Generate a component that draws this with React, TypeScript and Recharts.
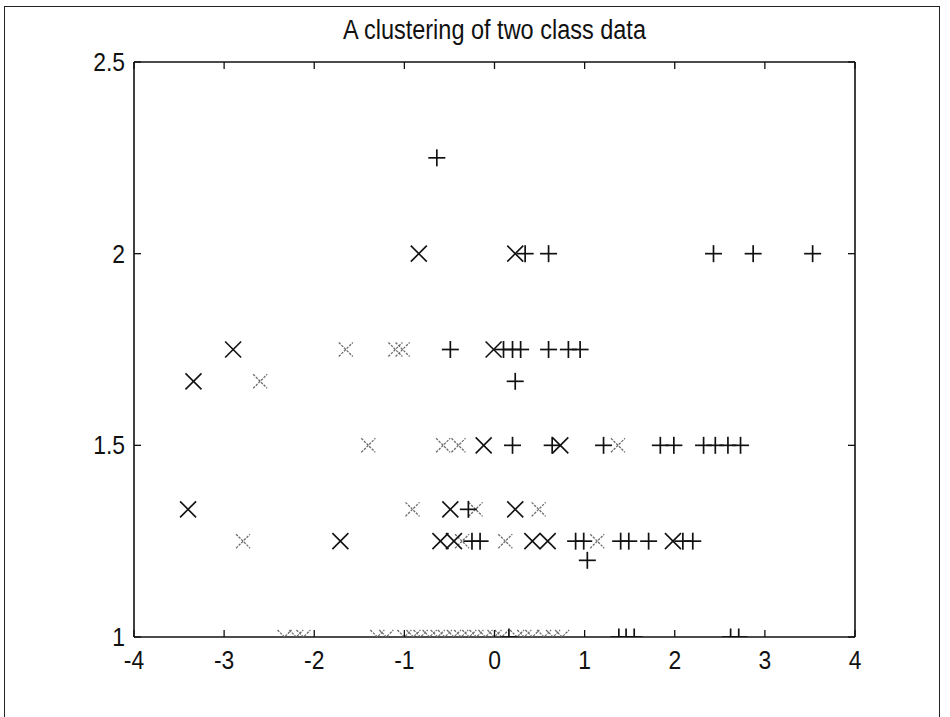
import { ScatterChart, Scatter, XAxis, YAxis } from 'recharts';

// class 1, dark "x" markers
const darkXx = [-0.84, 0.23, -2.9, -0.01, -3.34, -0.12, 0.73, -3.4, -0.49, 0.23, -1.71, -0.6, -0.45, 0.42, 0.59, 1.98];
const darkXy = [2, 2, 1.75, 1.75, 1.667, 1.5, 1.5, 1.333, 1.333, 1.333, 1.25, 1.25, 1.25, 1.25, 1.25, 1.25];

// class 1, faint "x" markers
const lightXx = [
    -1.65, -1.1, -1.02, -2.6, -1.4, -0.57, -0.4, 1.37, -0.91, -0.21, 0.49, -2.79, -0.36, 0.12, 1.14,
    -2.33, -2.2, -2.12, -1.3, -1.2, -1.0, -0.9, -0.82, -0.72, -0.63, -0.55, -0.45, -0.37, -0.28, -0.2,
    -0.1, 0.0, 0.08, 0.25, 0.33, 0.42, 0.55, 0.65, 0.75,
];
const lightXy = [
    1.75, 1.75, 1.75, 1.667, 1.5, 1.5, 1.5, 1.5, 1.333, 1.333, 1.333, 1.25, 1.25, 1.25, 1.25,
    1, 1, 1, 1, 1, 1, 1, 1, 1, 1, 1, 1, 1, 1, 1,
    1, 1, 1, 1, 1, 1, 1, 1, 1,
];

// class 2, "+" markers
const plusX = [
    -0.64, 0.34, 0.6, 2.43, 2.87, 3.53, -0.49, 0.1, 0.2, 0.29, 0.6, 0.82, 0.95, 0.23,
    0.2, 0.64, 1.21, 1.84, 1.99, 2.32, 2.45, 2.59, 2.73, -0.29, -0.25, -0.16, 0.9, 0.99,
    1.4, 1.49, 1.71, 2.09, 2.2, 1.03, 0.16, 1.38, 1.46, 1.55, 2.62, 2.71,
];
const plusY = [
    2.25, 2, 2, 2, 2, 2, 1.75, 1.75, 1.75, 1.75, 1.75, 1.75, 1.75, 1.667,
    1.5, 1.5, 1.5, 1.5, 1.5, 1.5, 1.5, 1.5, 1.5, 1.333, 1.25, 1.25, 1.25, 1.25,
    1.25, 1.25, 1.25, 1.25, 1.25, 1.2, 1, 1, 1, 1, 1, 1,
];

const xTicks = [-4, -3, -2, -1, 0, 1, 2, 3, 4];
const yTicks = [1, 1.5, 2, 2.5];
const title = 'A clustering of two class data';

const zip = (xs: number[], ys: number[]) => xs.map((x, i) => ({ x, y: ys[i] }));

const FONT = '"Liberation Sans", Arial, sans-serif';
const TICK = 7;
const SQUEEZE = 0.88;

const makeX = (color: string, half: number, width: number, dash?: string) => (props: any) => {
    const { cx, cy } = props;
    return (
        <g stroke={color} strokeWidth={width} strokeDasharray={dash} fill="none">
            <line x1={cx - half} y1={cy - half} x2={cx + half} y2={cy + half} />
            <line x1={cx - half} y1={cy + half} x2={cx + half} y2={cy - half} />
        </g>
    );
};

const makePlus = (color: string, half: number, width: number) => (props: any) => {
    const { cx, cy } = props;
    return (
        <g stroke={color} strokeWidth={width} fill="none">
            <line x1={cx - half} y1={cy} x2={cx + half} y2={cy} />
            <line x1={cx} y1={cy - half} x2={cx} y2={cy + half} />
        </g>
    );
};

// narrow-looking label, squeezed horizontally around its anchor
const Label = ({ x, y, anchor, children }: any) => (
    <g transform={`translate(${x},${y}) scale(${SQUEEZE},1)`}>
        <text x={0} y={0} textAnchor={anchor} fontSize={26} fontFamily={FONT} fill="#111">
            {children}
        </text>
    </g>
);

const BottomTick = ({ x, y, payload }: any) => (
    <g>
        <line x1={x} x2={x} y1={y} y2={y - TICK} stroke="#111" strokeWidth={1.3} />
        <Label x={x} y={y + 32} anchor="middle">{payload.value}</Label>
    </g>
);

const TopTick = ({ x, y }: any) => (
    <line x1={x} x2={x} y1={y} y2={y + TICK} stroke="#111" strokeWidth={1.3} />
);

const LeftTick = ({ x, y, payload }: any) => (
    <g>
        <line x1={x} x2={x + TICK} y1={y} y2={y} stroke="#111" strokeWidth={1.3} />
        <Label x={x - 9} y={y + 9} anchor="end">{payload.value}</Label>
    </g>
);

const RightTick = ({ x, y }: any) => (
    <line x1={x} x2={x - TICK} y1={y} y2={y} stroke="#111" strokeWidth={1.3} />
);

const NoMark = () => <g />;

export default function App() {
    const axisLine = { stroke: '#111', strokeWidth: 1.6 };
    return (
        <div style={{ position: 'absolute', left: 0, top: 0, width: 950, height: 717, overflow: 'hidden', background: '#fff' }}>
            <div
                style={{
                    position: 'absolute',
                    left: 4,
                    top: 6,
                    width: 934,
                    height: 740,
                    border: '1.5px solid #222',
                }}
            />
            <div
                style={{
                    position: 'absolute',
                    left: 134,
                    width: 721,
                    top: 15,
                    textAlign: 'center',
                    fontFamily: FONT,
                    fontSize: 27,
                    color: '#111',
                    transform: 'scaleX(0.87)',
                }}
            >
                {title}
            </div>
            <div style={{ position: 'absolute', left: 0, top: 0 }}>
                <ScatterChart width={950} height={717} margin={{ top: 61, right: 94, left: 0, bottom: 0 }}>
                    <XAxis
                        type="number"
                        dataKey="x"
                        domain={[-4, 4]}
                        ticks={xTicks}
                        interval={0}
                        height={80}
                        axisLine={axisLine}
                        tickLine={false}
                        tickSize={0}
                        tickMargin={0}
                        tick={(p: any) => <BottomTick {...p} />}
                        allowDataOverflow
                    />
                    <XAxis
                        xAxisId="top"
                        orientation="top"
                        type="number"
                        dataKey="x"
                        domain={[-4, 4]}
                        ticks={xTicks}
                        interval={0}
                        height={1}
                        axisLine={axisLine}
                        tickLine={false}
                        tickSize={0}
                        tickMargin={0}
                        tick={(p: any) => <TopTick {...p} />}
                        allowDataOverflow
                    />
                    <YAxis
                        type="number"
                        dataKey="y"
                        domain={[1, 2.5]}
                        ticks={yTicks}
                        interval={0}
                        width={134}
                        axisLine={axisLine}
                        tickLine={false}
                        tickSize={0}
                        tickMargin={0}
                        tick={(p: any) => <LeftTick {...p} />}
                        allowDataOverflow
                    />
                    <YAxis
                        yAxisId="right"
                        orientation="right"
                        type="number"
                        dataKey="y"
                        domain={[1, 2.5]}
                        ticks={yTicks}
                        interval={0}
                        width={1}
                        axisLine={axisLine}
                        tickLine={false}
                        tickSize={0}
                        tickMargin={0}
                        tick={(p: any) => <RightTick {...p} />}
                        allowDataOverflow
                    />
                    <Scatter
                        data={zip(lightXx, lightXy)}
                        shape={makeX('#6e6e6e', 7, 1.3, '2.5 1.2')}
                        isAnimationActive={false}
                    />
                    <Scatter data={zip(darkXx, darkXy)} shape={makeX('#111', 8, 1.6)} isAnimationActive={false} />
                    <Scatter data={zip(plusX, plusY)} shape={makePlus('#111', 8.5, 1.7)} isAnimationActive={false} />
                    {/* binds the box's top/right axes; draws nothing itself */}
                    <Scatter
                        data={zip(plusX, plusY)}
                        xAxisId="top"
                        yAxisId="right"
                        shape={NoMark}
                        isAnimationActive={false}
                    />
                </ScatterChart>
            </div>
        </div>
    );
}
